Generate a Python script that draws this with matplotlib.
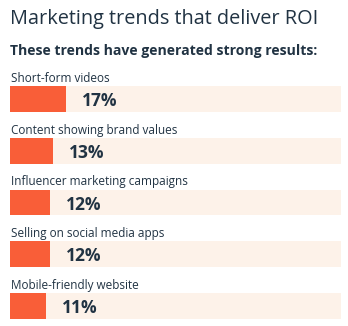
import matplotlib.pyplot as plt

# ── Data ──────────────────────────────────────────────────────────────────────
categories = [
    "Short-form videos",
    "Content showing brand values",
    "Influencer marketing campaigns",
    "Selling on social media apps",
    "Mobile-friendly website",
]
values = [17, 13, 12, 12, 11]

TITLE = "Marketing trends that deliver ROI"
SUBTITLE = "These trends have generated strong results:"

# ── Style ─────────────────────────────────────────────────────────────────────
ORANGE = "#F95E38"
TRACK = "#FDF2E9"
INK = "#213343"
plt.rcParams["font.family"] = ["Open Sans", "DejaVu Sans"]

W, H = 348, 326
fig = plt.figure(figsize=(W / 100, H / 100), dpi=100)
fig.patch.set_facecolor("white")

# axes spans the bar area (pixel box 10..341 x 86..319)
ax = fig.add_axes([10 / W, (H - 319) / H, 331 / W, (319 - 86) / H])
ax.set_xlim(0, 100)
ax.set_ylim(len(categories) - 1 + 0.25, -0.25)
ax.axis("off")

ys = list(range(len(categories)))
ax.barh(ys, [100] * len(ys), height=0.5, color=TRACK, align="center")
ax.barh(ys, values, height=0.5, color=ORANGE, align="center")

for y, cat, v in zip(ys, categories, values):
    ax.text(0.3, y - 0.33, cat, fontsize=8.5, color=INK, va="baseline",
            ha="left", clip_on=False)
    ax.text(v + 4.8, y + 0.04, f"{v}%", fontsize=12.5, fontweight="bold",
            color=INK, va="center", ha="left")

fig.text(10 / W, 1 - 24 / H, TITLE, fontsize=14.3, color=INK,
         va="baseline", ha="left")
fig.text(10 / W, 1 - 55 / H, SUBTITLE, fontsize=10.1, fontweight="bold",
         color=INK, va="baseline", ha="left")

fig.savefig("out.png", dpi=100, facecolor="white")
